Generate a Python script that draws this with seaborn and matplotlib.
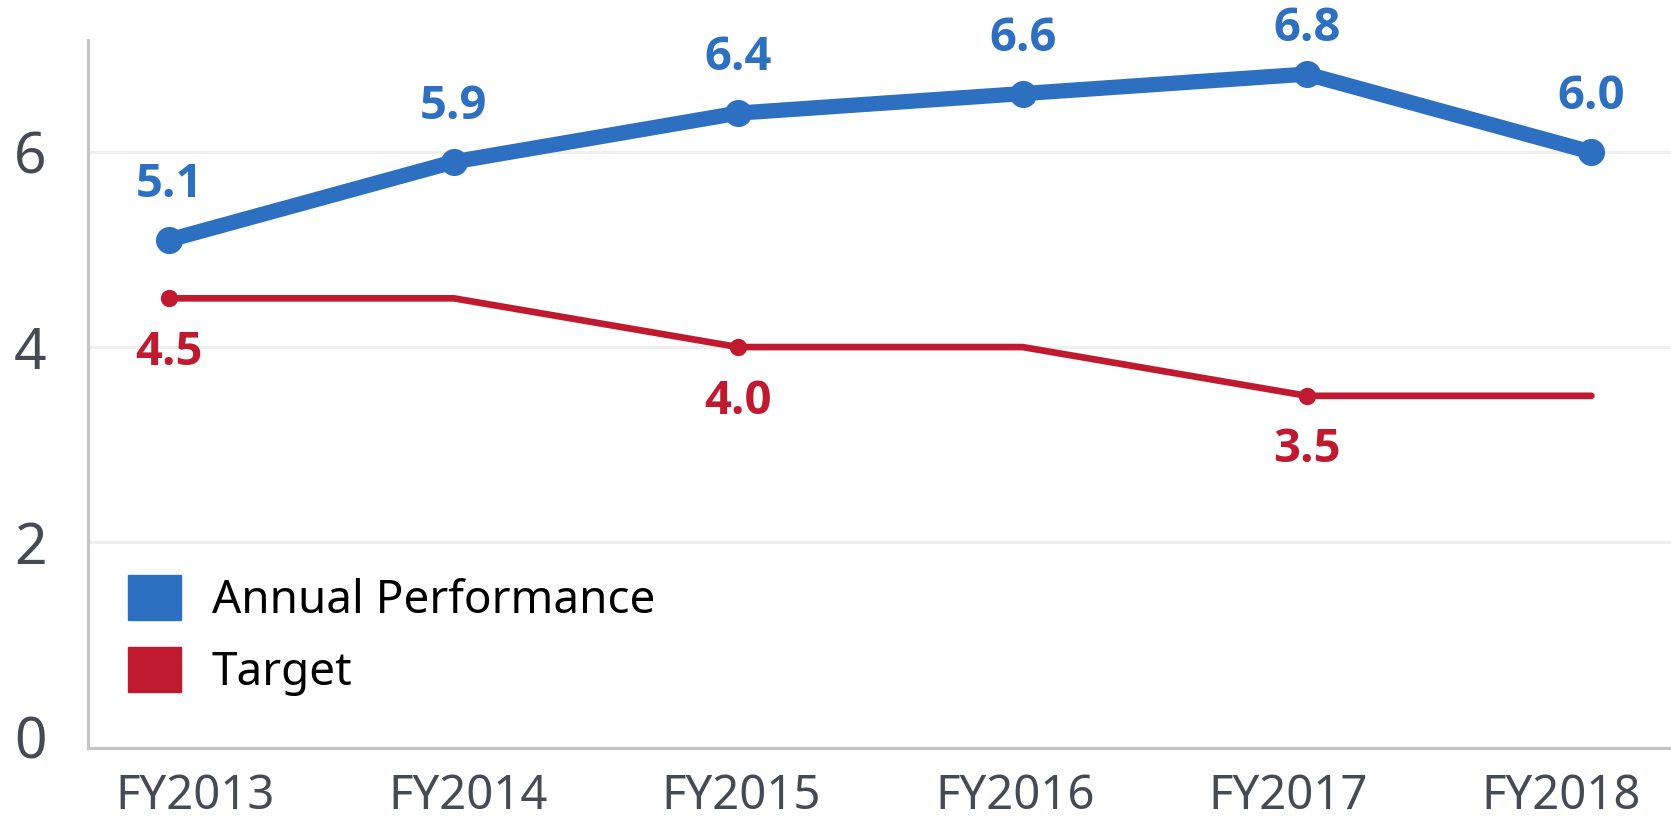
import numpy as np
import pandas as pd
import matplotlib
matplotlib.use("Agg")
import matplotlib.pyplot as plt
import seaborn as sns
from matplotlib.patches import Patch

# Données
annees = ["FY2013", "FY2014", "FY2015", "FY2016", "FY2017", "FY2018"]
performance = [5.1, 5.9, 6.4, 6.6, 6.8, 6.0]
objectif = [4.5, 4.5, 4.0, 4.0, 3.5, 3.5]
yticks = [0, 2, 4, 6]

BLEU = "#2d6fc0"
ROUGE = "#c01a31"
GRIS_TXT = "#464a53"

sns.set_style("white")
plt.rcParams["font.family"] = ["Noto Sans", "DejaVu Sans"]
GRAS = ["Open Sans", "DejaVu Sans"]

df = pd.DataFrame({"annee": annees, "Annual Performance": performance, "Target": objectif})
df["x"] = np.arange(len(annees))

fig = plt.figure(figsize=(16.71, 8.21), dpi=100)
ax = fig.add_axes([0.0527, 0.0889, 0.9473, 0.8624])

# --- Courbe de l'objectif (marqueurs seulement aux changements) ---
chg = [i for i in range(len(objectif)) if i == 0 or objectif[i] != objectif[i - 1]]
sns.lineplot(data=df, x="x", y="Target", ax=ax, color=ROUGE, linewidth=4.8,
             marker="o", markersize=12.5, markeredgewidth=0, markevery=chg)

# --- Courbe de la performance annuelle ---
sns.lineplot(data=df, x="x", y="Annual Performance", ax=ax, color=BLEU, linewidth=11,
             marker="o", markersize=19.5, markeredgewidth=0)

# Étiquettes des valeurs (la plus haute un peu rapprochée pour ne pas sortir du cadre)
for x, v in zip(df["x"], performance):
    dy = 40 if v < 6.7 else 33
    ax.annotate(f"{v:.1f}", (x, v), xytext=(0, dy), textcoords="offset points",
                ha="center", va="center", fontsize=34, fontweight="bold",
                family=GRAS, color=BLEU)
for i in chg:
    ax.annotate(f"{objectif[i]:.1f}", (i, objectif[i]), xytext=(0, -39), textcoords="offset points",
                ha="center", va="center", fontsize=34, fontweight="bold",
                family=GRAS, color=ROUGE)

ax.set_xlim(-0.286, 5.28)
ax.set_ylim(-0.113, 7.15)
ax.set_yticks(yticks)
ax.set_yticklabels([str(t) for t in yticks])
ax.set_xticks(0.09 + np.arange(len(annees)) * 0.961)
ax.set_xticklabels(annees)
ax.set_xlabel("")
ax.set_ylabel("")

ax.tick_params(axis="y", length=0, pad=30, labelsize=41, labelcolor=GRIS_TXT)
ax.tick_params(axis="x", length=0, pad=18, labelsize=34, labelcolor=GRIS_TXT)

# Grille horizontale légère
for t in yticks[1:]:
    ax.axhline(t, color="#efefef", linewidth=2.2, zorder=0)

for s in ["top", "right"]:
    ax.spines[s].set_visible(False)
for s in ["left", "bottom"]:
    ax.spines[s].set_color("#c4c4c4")
    ax.spines[s].set_linewidth(2.2)

handles = [Patch(color=BLEU, label="Annual Performance"), Patch(color=ROUGE, label="Target")]
leg = ax.legend(handles=handles, loc="upper left", bbox_to_anchor=(0.0253, 0.245), frameon=False,
                fontsize=33, handlelength=1.15, handleheight=1.15, handletextpad=0.68,
                labelspacing=0.5, borderpad=0, borderaxespad=0)
for t in leg.get_texts():
    t.set_color("black")

fig.savefig("out.png", dpi=100)
